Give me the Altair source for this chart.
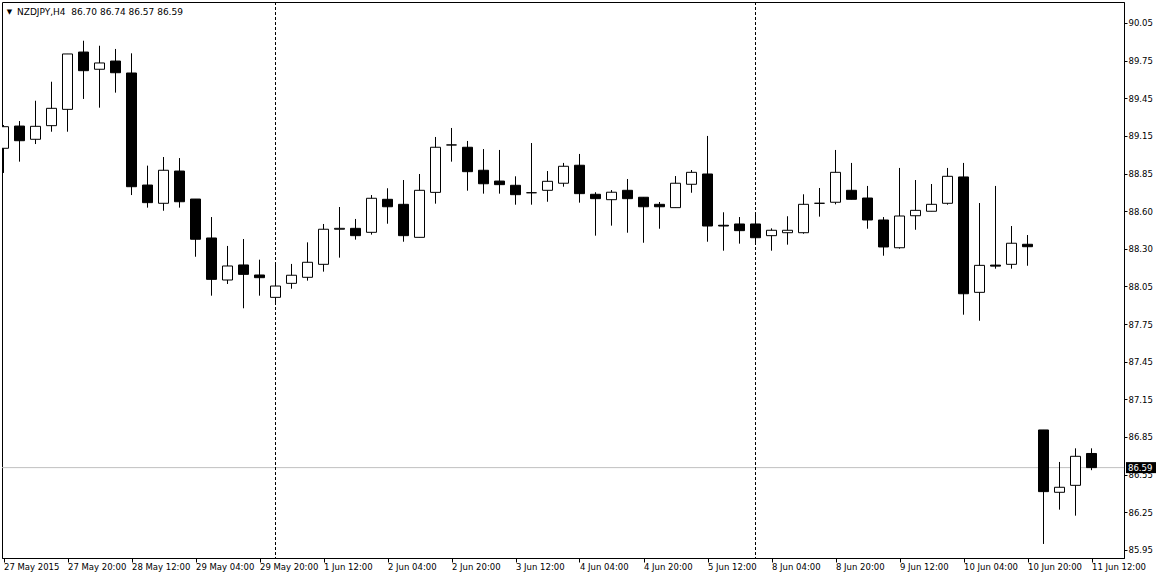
import altair as alt
import pandas as pd

# ---- data (NZDJPY H4, 27 May 2015 04:00 .. 11 Jun 2015 12:00) ----
open_ = [89.075, 89.248, 89.145, 89.251, 89.378, 89.824, 89.690, 89.754, 89.661, 88.789,
         88.647, 88.898, 88.680, 88.377, 88.050, 88.167, 88.089, 87.915, 88.024, 88.071,
         88.172, 88.445, 88.452, 88.421, 88.678, 88.639, 88.382, 88.732, 89.101, 89.083,
         88.904, 88.820, 88.787, 88.729, 88.748, 88.803, 88.943, 88.717, 88.675, 88.748,
         88.694, 88.639, 88.613, 88.795, 88.875, 88.476, 88.486, 88.486, 88.395, 88.418,
         88.418, 88.647, 88.655, 88.748, 88.688, 88.517, 88.301, 88.550, 88.585, 88.647,
         88.852, 87.954, 88.166, 88.172, 88.328, 86.883, 86.398, 86.452, 86.70]
high = [89.256, 89.287, 89.445, 89.593, 89.809, 89.912, 89.873, 89.848, 89.814, 88.940,
        89.007, 88.999, 88.680, 88.540, 88.315, 88.369, 88.208, 88.172, 88.175, 88.343,
        88.486, 88.618, 88.525, 88.711, 88.764, 88.828, 88.875, 89.163, 89.233, 89.132,
        89.069, 89.062, 88.857, 89.116, 88.898, 88.961, 89.031, 88.733, 88.750, 88.836,
        88.694, 88.657, 88.859, 88.906, 89.171, 88.577, 88.540, 88.577, 88.452, 88.546,
        88.717, 88.766, 89.062, 88.961, 88.782, 88.540, 88.922, 88.828, 88.797, 88.922,
        88.961, 88.649, 88.782, 88.470, 88.400, 86.883, 86.634, 86.740, 86.74]
low = [88.883, 88.971, 89.108, 89.204, 89.204, 89.459, 89.391, 89.508, 88.711, 88.613,
       88.589, 88.613, 88.231, 87.928, 88.019, 87.830, 87.928, 87.855, 87.982, 88.045,
       88.115, 88.224, 88.364, 88.403, 88.488, 88.348, 88.382, 88.644, 88.971, 88.745,
       88.722, 88.722, 88.636, 88.636, 88.659, 88.776, 88.652, 88.395, 88.473, 88.418,
       88.340, 88.449, 88.613, 88.729, 88.348, 88.278, 88.333, 88.325, 88.278, 88.325,
       88.410, 88.543, 88.639, 88.678, 88.449, 88.239, 88.294, 88.441, 88.585, 88.636,
       87.780, 87.733, 88.138, 88.138, 88.161, 85.996, 86.263, 86.216, 86.57]
close = [89.243, 89.134, 89.246, 89.386, 89.809, 89.679, 89.739, 89.663, 88.776, 88.652,
         88.904, 88.659, 88.367, 88.055, 88.159, 88.094, 88.068, 88.003, 88.087, 88.188,
         88.445, 88.452, 88.395, 88.686, 88.620, 88.395, 88.748, 89.083, 89.101, 88.893,
         88.799, 88.792, 88.714, 88.729, 88.818, 88.935, 88.722, 88.683, 88.733, 88.683,
         88.620, 88.620, 88.803, 88.888, 88.470, 88.470, 88.434, 88.379, 88.437, 88.437,
         88.639, 88.647, 88.888, 88.678, 88.517, 88.307, 88.548, 88.592, 88.639, 88.857,
         87.943, 88.164, 88.158, 88.336, 88.309, 86.403, 86.437, 86.678, 86.59]

time_labels = ["27 May 2015", "27 May 20:00", "28 May 12:00", "29 May 04:00", "29 May 20:00",
               "1 Jun 12:00", "2 Jun 04:00", "2 Jun 20:00", "3 Jun 12:00", "4 Jun 04:00",
               "4 Jun 20:00", "5 Jun 12:00", "8 Jun 04:00", "8 Jun 20:00", "9 Jun 12:00",
               "10 Jun 04:00", "10 Jun 20:00", "11 Jun 12:00"]
time_label_idx = [4 * k for k in range(len(time_labels))]

price_labels = ["90.05", "89.75", "89.45", "89.15", "88.85", "88.60", "88.30", "88.05",
                "87.75", "87.45", "87.15", "86.85", "86.55", "86.25", "85.95"]
price_top, price_bottom = 90.05, 85.95

week_separators = [17, 47]   # bars at 1 Jun 00:00 and 8 Jun 00:00
bid = 86.59
symbol = "NZDJPY,H4"

# ---- tables ----
df = pd.DataFrame({"i": list(range(len(open_))), "open": open_, "high": high,
                   "low": low, "close": close})
df_sep = pd.DataFrame({"i": week_separators})
df_bid = pd.DataFrame({"p": [bid], "txt": [f"{bid:.2f}"]})
title_txt = f"{symbol}\u00a0 {open_[-1]:.2f} {high[-1]:.2f} {low[-1]:.2f} {close[-1]:.2f}"
df_title = pd.DataFrame({"t": [title_txt], "tri": ["\u25bc"]})

# ---- scales / axes ----
W, H = 1122, 556
FONT = "DejaVu Sans"
step = (price_top - price_bottom) / (len(price_labels) - 1)
ytick_vals = [price_top - k * step for k in range(len(price_labels))]

x_scale = alt.Scale(domain=[-0.09375, 70.03125], nice=False, zero=False)
y_scale = alt.Scale(domain=[85.88658, 90.21342], nice=False, zero=False)

tl_js = "[" + ",".join("'" + s + "'" for s in time_labels) + "]"
pl_js = "[" + ",".join("'" + s + "'" for s in price_labels) + "]"

x_axis = alt.Axis(values=time_label_idx, labelExpr=f"{tl_js}[round(datum.value/4)]",
                  orient="bottom", title=None, grid=False, domain=True, domainColor="black",
                  ticks=True, tickSize=4, tickColor="black", labelAlign="left",
                  labelBaseline="top", labelPadding=0, labelFont=FONT, labelFontSize=8.5,
                  labelColor="black", labelOverlap=False, labelFlush=False, labelBound=False)
y_axis = alt.Axis(values=ytick_vals,
                  labelExpr=f"{pl_js}[round(({price_top}-datum.value)/{step})]",
                  orient="right", title=None, grid=False, domain=True, domainColor="black",
                  ticks=True, tickSize=3, tickColor="black", labelAlign="left",
                  labelBaseline="middle", labelPadding=1, labelFont=FONT, labelFontSize=8.5,
                  labelColor="black", labelOverlap=False, labelFlush=False, labelBound=False)

# ---- layers ----
bid_line = alt.Chart(df_bid).mark_rule(color="#c0c0c0", strokeWidth=1).encode(
    y=alt.Y("p:Q", scale=y_scale, axis=y_axis))

seps = alt.Chart(df_sep).mark_rule(color="black", strokeWidth=1, strokeDash=[3, 2]).encode(
    x=alt.X("i:Q", scale=x_scale, axis=x_axis))

wicks = alt.Chart(df).mark_rule(color="black", strokeWidth=1, clip=True).encode(
    x=alt.X("i:Q", scale=x_scale, axis=x_axis),
    y=alt.Y("low:Q", scale=y_scale, axis=y_axis),
    y2="high:Q")

bodies = alt.Chart(df).transform_calculate(
    xl="datum.i - 0.3125", xr="datum.i + 0.3125"
).mark_rect(stroke="black", strokeWidth=1, clip=True).encode(
    x=alt.X("xl:Q", scale=x_scale, axis=x_axis),
    x2="xr:Q",
    y=alt.Y("open:Q", scale=y_scale, axis=y_axis),
    y2="close:Q",
    fill=alt.condition("datum.close < datum.open", alt.value("black"), alt.value("white")))

bid_box = alt.Chart(df_bid).mark_rule(color="black", strokeWidth=11, clip=False).encode(
    y=alt.Y("p:Q", scale=y_scale, axis=y_axis),
    x=alt.value(W + 2), x2=alt.value(W + 32))

bid_txt = alt.Chart(df_bid).mark_text(align="left", baseline="middle", color="white",
                                      font=FONT, fontSize=8.5, clip=False).encode(
    y=alt.Y("p:Q", scale=y_scale, axis=y_axis),
    x=alt.value(W + 4), text="txt:N")

title_tri = alt.Chart(df_title).mark_text(align="center", baseline="middle", color="black",
                                          font=FONT, fontSize=7).encode(
    x=alt.value(7.5), y=alt.value(9.5), text="tri:N")
title_main = alt.Chart(df_title).mark_text(align="left", baseline="middle", color="black",
                                           font=FONT, fontSize=9).encode(
    x=alt.value(15), y=alt.value(9.5), text="t:N")

chart = alt.layer(bid_line, seps, wicks, bodies, bid_box, bid_txt, title_tri, title_main).properties(
    width=W, height=H,
    autosize=alt.AutoSizeParams(type="none"),
    padding={"left": 2, "top": 2, "right": 40, "bottom": 18},
    background="white",
).configure_view(stroke="black", strokeWidth=1)

chart.save("out.html", embed_options={"renderer": "svg", "actions": False})
